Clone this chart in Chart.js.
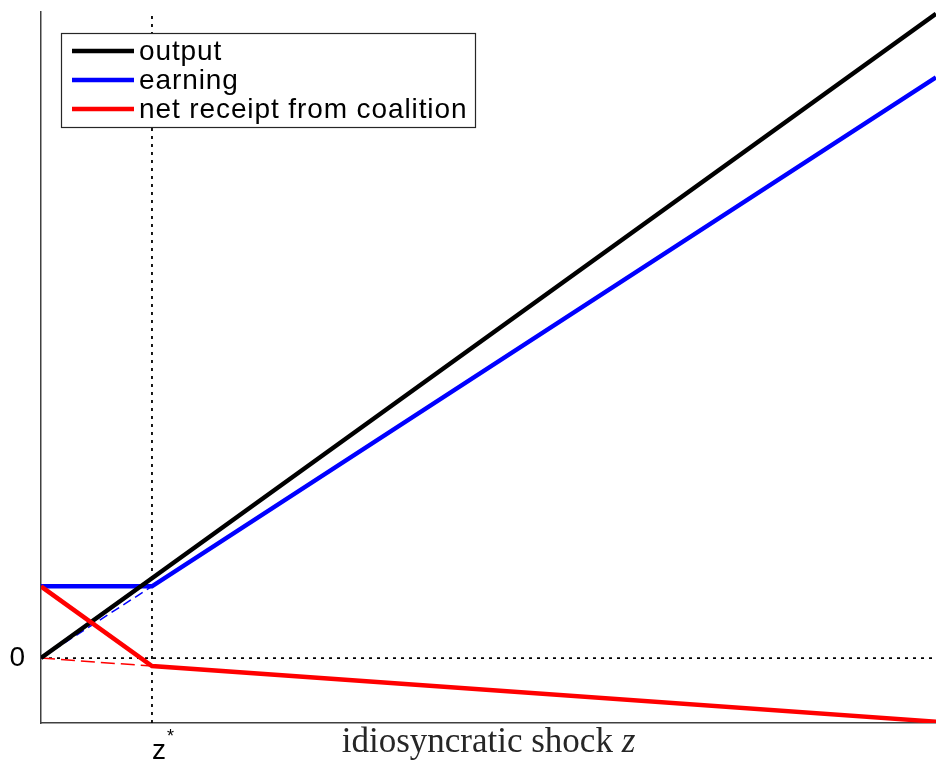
<!DOCTYPE html>
<html>
<head>
<meta charset="utf-8">
<script src="https://cdn.jsdelivr.net/npm/chart.js@4.4.1/dist/chart.umd.min.js"></script>
<style>
  html, body { margin: 0; padding: 0; background: #fff; }
  #wrap { width: 936px; height: 767px; position: relative; }
</style>
</head>
<body>
<div id="wrap"><canvas id="chart"></canvas></div>
<script>
// threshold shock z* and the x positions where the lines bend
const Z_STAR = 1.24;
const X_MIN = 0;
const X_MAX = 10;
const Y_MIN = -0.725;
const Y_MAX = 7.21;

const xKnots = [0, Z_STAR, 10];
const output = [0, 0.89, 7.19];
const earning = [0.80, 0.80, 6.48];
const netReceipt = [0.80, -0.09, -0.71];

// dashed extensions below z*
const xDashed = [0, Z_STAR];
const earningDashed = [0, 0.80];
const netReceiptDashed = [0, -0.09];

const SERIES_LABELS = ['output', 'earning', 'net receipt from coalition'];
const SERIES_COLORS = ['#000000', '#0000ff', '#ff0000'];

const xTickLabels = ['\u2002z'];
const yTickLabels = ['0'];

const pts = (xs, ys) => xs.map((x, i) => ({ x, y: ys[i] }));

const FONT = 'Liberation Sans, Arial, sans-serif';
const SERIF = '"Liberation Serif", "DejaVu Serif", serif';

// legend drawn inside the plot area, top left
const insideLegend = {
  id: 'insideLegend',
  afterDraw(chart) {
    const ctx = chart.ctx;
    const left = 61, top = 33, w = 414, h = 94;
    ctx.save();
    ctx.fillStyle = '#fff';
    ctx.fillRect(left, top, w, h);
    ctx.strokeStyle = '#262626';
    ctx.lineWidth = 1.2;
    ctx.strokeRect(left + 0.5, top + 0.5, w, h);
    ctx.font = '28px ' + FONT;
    ctx.letterSpacing = '0.9px';
    ctx.textBaseline = 'middle';
    SERIES_LABELS.forEach((label, i) => {
      const y = 51 + i * 29;
      ctx.strokeStyle = SERIES_COLORS[i];
      ctx.lineWidth = 4.5;
      ctx.beginPath();
      ctx.moveTo(72, y);
      ctx.lineTo(134, y);
      ctx.stroke();
      ctx.fillStyle = '#000';
      ctx.fillText(label, 139, y + 1);
    });
    ctx.restore();
  }
};

// x axis title (sits on the same row as the tick label) and the star of z*
const axisText = {
  id: 'axisText',
  afterDraw(chart) {
    const ctx = chart.ctx;
    const xs = chart.scales.x;
    ctx.save();
    ctx.fillStyle = '#000';
    ctx.textBaseline = 'alphabetic';
    const px = xs.getPixelForValue(Z_STAR);
    ctx.font = '18px ' + FONT;
    ctx.fillText('*', px + 15, 742);

    const main = 'idiosyncratic shock ';
    ctx.font = '35px ' + SERIF;
    const w1 = ctx.measureText(main).width;
    ctx.font = 'italic 35px ' + SERIF;
    const w2 = ctx.measureText('z').width;
    const cx = (chart.chartArea.left + chart.chartArea.right) / 2;
    const x0 = cx - (w1 + w2) / 2;
    ctx.fillStyle = '#262626';
    ctx.font = '35px ' + SERIF;
    ctx.fillText(main, x0, 752);
    ctx.font = 'italic 35px ' + SERIF;
    ctx.fillText('z', x0 + w1, 752);
    ctx.restore();
  }
};

const lineBase = { showLine: true, pointRadius: 0, fill: false, tension: 0 };

new Chart(document.getElementById('chart'), {
  type: 'scatter',
  data: {
    datasets: [
      { ...lineBase, label: SERIES_LABELS[2], data: pts(xKnots, netReceipt), borderColor: SERIES_COLORS[2], borderWidth: 4.5, order: 0 },
      { ...lineBase, label: SERIES_LABELS[0], data: pts(xKnots, output), borderColor: SERIES_COLORS[0], borderWidth: 4.5, order: 1 },
      { ...lineBase, label: SERIES_LABELS[1], data: pts(xKnots, earning), borderColor: SERIES_COLORS[1], borderWidth: 4.5, order: 2 },
      { ...lineBase, label: 'earning dashed', data: pts(xDashed, earningDashed), borderColor: SERIES_COLORS[1], borderWidth: 1.5, borderDash: [9, 5], order: 3 },
      { ...lineBase, label: 'net dashed', data: pts(xDashed, netReceiptDashed), borderColor: SERIES_COLORS[2], borderWidth: 1.5, borderDash: [14, 6], order: 3 },
      { ...lineBase, label: 'zero', data: pts([X_MIN, X_MAX], [0, 0]), borderColor: '#000', borderWidth: 1.8, borderDash: [3, 5], order: 4 },
      { ...lineBase, label: 'z star', data: pts([Z_STAR, Z_STAR], [Y_MIN, Y_MAX]), borderColor: '#000', borderWidth: 1.8, borderDash: [3, 5], order: 4 },
    ],
  },
  options: {
    responsive: true,
    maintainAspectRatio: false,
    animation: false,
    layout: { padding: { top: 12, right: 0, left: 0, bottom: 0 } },
    scales: {
      x: {
        type: 'linear',
        min: X_MIN,
        max: X_MAX,
        afterBuildTicks: (scale) => { scale.ticks = [{ value: Z_STAR }]; },
        afterFit: (scale) => {
          scale.height = 44;
          scale.paddingLeft = 0;
          scale.paddingRight = 0;
        },
        ticks: {
          callback: (v, i) => xTickLabels[i] ?? '',
          font: { family: FONT, size: 28 },
          color: '#000',
          padding: 11,
          maxRotation: 0,
          autoSkip: false,
        },
        grid: { drawOnChartArea: false, drawTicks: false },
        border: { display: true, color: '#404040', width: 1.5 },
      },
      y: {
        type: 'linear',
        min: Y_MIN,
        max: Y_MAX,
        afterBuildTicks: (scale) => { scale.ticks = [{ value: 0 }]; },
        afterFit: (scale) => {
          scale.width = 41;
          scale.paddingTop = 0;
          scale.paddingBottom = 0;
        },
        ticks: {
          callback: (v, i) => yTickLabels[i] ?? '',
          font: { family: FONT, size: 28 },
          color: '#000',
          padding: 16,
          autoSkip: false,
        },
        grid: { drawOnChartArea: false, drawTicks: false },
        border: { display: true, color: '#404040', width: 1.5 },
      },
    },
    plugins: {
      legend: { display: false },
      tooltip: { enabled: false },
    },
  },
  plugins: [insideLegend, axisText],
});
</script>
</body>
</html>
